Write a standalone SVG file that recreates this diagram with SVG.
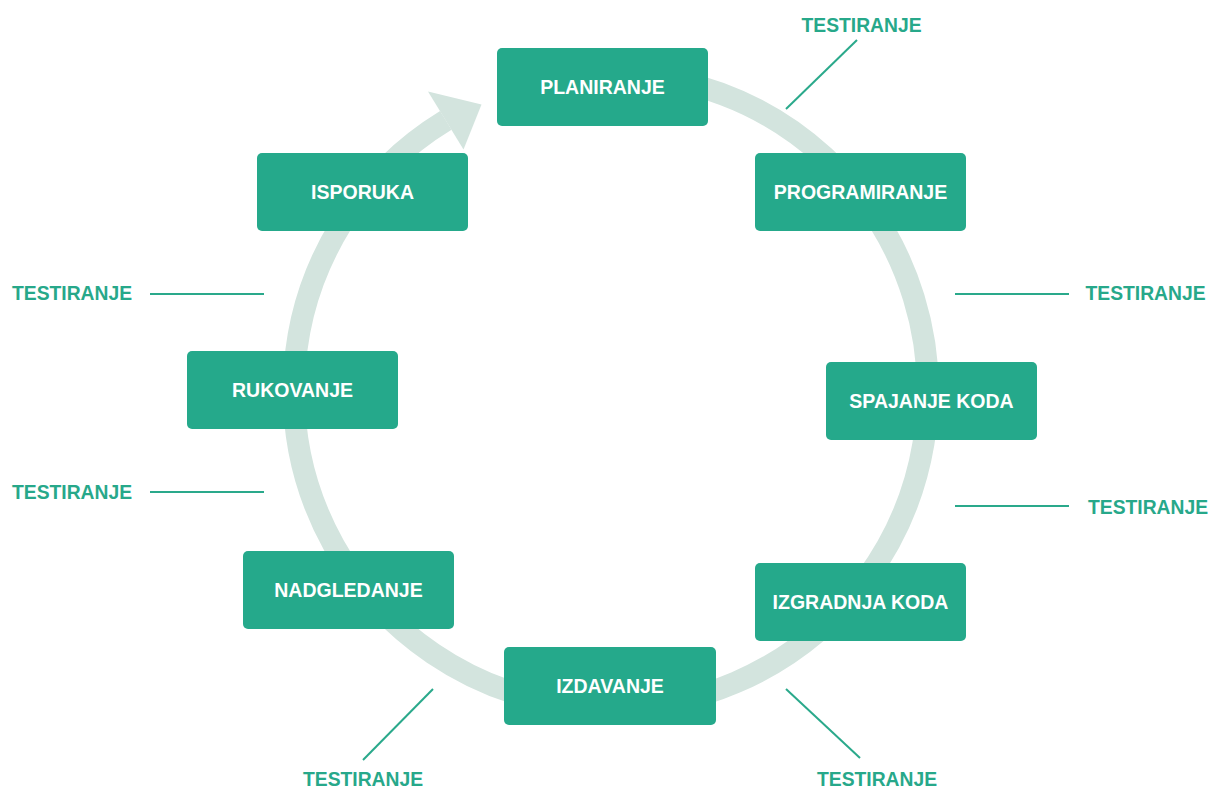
<svg xmlns="http://www.w3.org/2000/svg" width="1215" height="789" viewBox="0 0 1215 789">
<style>
.node rect{fill:#25a98b;}
.node text{fill:#ffffff;font-family:"Liberation Sans",Arial,sans-serif;font-weight:bold;font-size:19.5px;text-anchor:middle;}
.lbl{fill:#27a88a;font-family:"Liberation Sans",Arial,sans-serif;font-weight:bold;font-size:19.3px;text-anchor:middle;}
.tick{stroke:#2aa98b;stroke-width:2;fill:none;}
</style>
<rect width="1215" height="789" fill="#ffffff"/>
<g id="cycle">
<path d="M529,84.8 A317,317 0 1 1 445.8,120.4" fill="none" stroke="#d3e4de" stroke-width="22"/>
<polygon points="428,91.4 481.5,104.5 463.5,149.4" fill="#d3e4de"/>
</g>
<g id="connectors">
<line class="tick" x1="857" y1="40" x2="786" y2="109"/>
<line class="tick" x1="955" y1="294" x2="1069" y2="294"/>
<line class="tick" x1="955" y1="506" x2="1069" y2="506"/>
<line class="tick" x1="786" y1="689" x2="860" y2="758"/>
<line class="tick" x1="433" y1="689" x2="363" y2="760"/>
<line class="tick" x1="150" y1="492" x2="264" y2="492"/>
<line class="tick" x1="150" y1="294" x2="264" y2="294"/>
</g>
<g id="labels">
<text class="lbl" x="861.5" y="32">TESTIRANJE</text>
<text class="lbl" x="1145.5" y="300">TESTIRANJE</text>
<text class="lbl" x="1148" y="514">TESTIRANJE</text>
<text class="lbl" x="877" y="786">TESTIRANJE</text>
<text class="lbl" x="363" y="786">TESTIRANJE</text>
<text class="lbl" x="72" y="499">TESTIRANJE</text>
<text class="lbl" x="72" y="300">TESTIRANJE</text>
</g>
<g id="n-planiranje" class="node"><rect x="497" y="48" width="211" height="78" rx="5"/><text x="602.5" y="94">PLANIRANJE</text></g>
<g id="n-programiranje" class="node"><rect x="755" y="153" width="211" height="78" rx="5"/><text x="860.5" y="199">PROGRAMIRANJE</text></g>
<g id="n-spajanje" class="node"><rect x="826" y="362" width="211" height="78" rx="5"/><text x="931.5" y="408">SPAJANJE KODA</text></g>
<g id="n-izgradnja" class="node"><rect x="755" y="563" width="211" height="78" rx="5"/><text x="860.5" y="609">IZGRADNJA KODA</text></g>
<g id="n-izdavanje" class="node"><rect x="504" y="647" width="212" height="78" rx="5"/><text x="610" y="693">IZDAVANJE</text></g>
<g id="n-nadgledanje" class="node"><rect x="243" y="551" width="211" height="78" rx="5"/><text x="348.5" y="597">NADGLEDANJE</text></g>
<g id="n-rukovanje" class="node"><rect x="187" y="351" width="211" height="78" rx="5"/><text x="292.5" y="397">RUKOVANJE</text></g>
<g id="n-isporuka" class="node"><rect x="257" y="153" width="211" height="78" rx="5"/><text x="362.5" y="199">ISPORUKA</text></g>
</svg>
